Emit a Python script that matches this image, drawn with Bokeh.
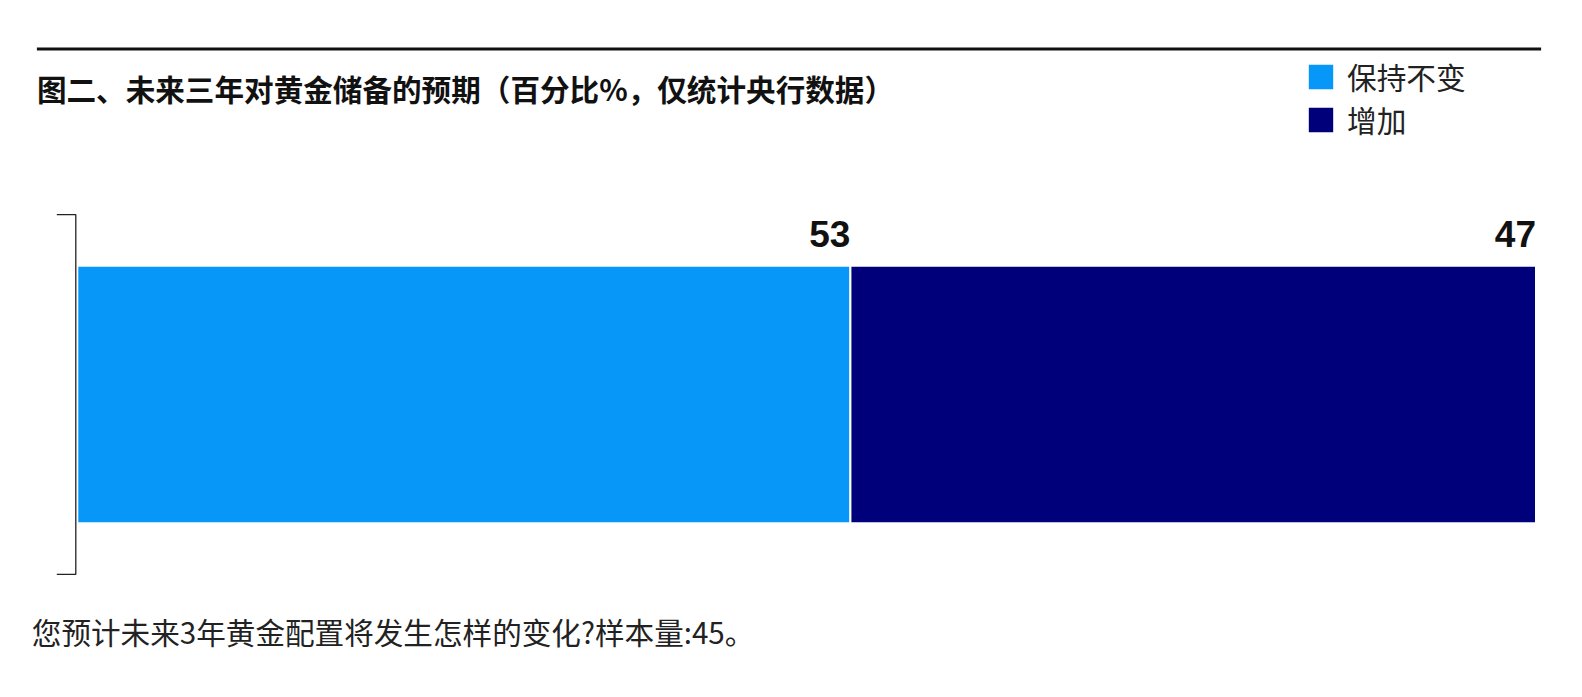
from bokeh.core.properties import value
from bokeh.embed import file_html
from bokeh.models import (BoxAnnotation, ColumnDataSource, Label, LabelSet, Legend,
                          LegendItem, Range1d)
from bokeh.plotting import figure
from bokeh.resources import INLINE
import numpy as np

TITLE = "图二、未来三年对黄金储备的预期（百分比%，仅统计央行数据）"
NOTE = "您预计未来3年黄金配置将发生怎样的变化?样本量:45。"

groups = ["央行"]
series = ["保持不变", "增加"]
keep = [53]
increase = [47]
colors = ["#0797F9", "#00007A"]

CJK = "Noto Sans CJK SC"

W, H = 1566, 681
# pixel layout of the plotting band inside the canvas
BAR_L, BAR_R = 76.8, 1535.5      # x of value 0 and of the total
BAND_TOP, BAND_BOT = 214.2, 573.8  # y (from top) of the bracket ends
TICK = 19                        # bracket tick length, px
BAR_H = 0.716                    # bar height as a share of the band

total = float(np.sum([keep[0], increase[0]]))
px_x = (BAR_R - BAR_L) / total
x0 = -BAR_L / px_x
px_y = BAND_BOT - BAND_TOP       # one band unit
y0 = -(H - BAND_BOT) / px_y
band = (0.0, 1.0)
mid = float(np.mean(band))

src = ColumnDataSource({"group": groups, "y": [mid] * len(groups),
                        series[0]: keep, series[1]: increase})

p = figure(
    width=W,
    height=H,
    x_range=Range1d(x0, x0 + W / px_x),
    y_range=Range1d(y0, y0 + H / px_y),
    x_axis_location=None,
    y_axis_location=None,
    toolbar_location=None,
    output_backend="svg",
    min_border=0,
)
p.outline_line_color = None
p.background_fill_color = "white"
p.border_fill_color = "white"
p.grid.visible = False

bars = p.hbar_stack(series, y="y", height=BAR_H, color=colors, source=src,
                    line_color="white", line_width=2)

# bracket on the left: vertical rule over the band with outward ticks at both ends,
# sitting just left of the bars
gap = 1.5 / px_x
t = TICK / px_x
p.line([-gap - t, -gap, -gap, -gap - t], [band[1], band[1], band[0], band[0]],
       line_color="#222222", line_width=1.3)

# value labels at the end of each segment
ends = np.cumsum([keep[0], increase[0]])
lab_src = ColumnDataSource({
    "x": ends.tolist(),
    "y": [mid, mid],
    "text": [str(keep[0]), str(increase[0])],
})
p.add_layout(LabelSet(x="x", y="y", text="text", source=lab_src,
                      x_offset=0, y_offset=BAR_H * px_y / 2 + 19, text_align="right",
                      text_baseline="bottom", text_font=value("Liberation Sans"),
                      text_font_style="bold", text_font_size="37px",
                      text_color="#111111"))

legend = Legend(
    items=[LegendItem(label=s, renderers=[r]) for s, r in zip(series, bars)],
    location=(1304, 540),
    orientation="vertical",
    glyph_width=33, glyph_height=33, label_height=23,
    label_standoff=10, spacing=-10, padding=0, margin=0,
    border_line_color=None, background_fill_alpha=0,
    label_text_font=CJK, label_text_font_size="29.7px", label_text_color="#222222",
)
p.add_layout(legend, "center")

p.add_layout(Label(x=36.4, y=H - 87.9, x_units="screen", y_units="screen", text=TITLE,
                   text_font=CJK, text_font_style="bold", text_font_size="29.6px",
                   text_baseline="middle", text_color="#111111"))
p.add_layout(Label(x=31.3, y=H - 630.5, x_units="screen", y_units="screen", text=NOTE,
                   text_font=CJK, text_font_size="29.6px",
                   text_baseline="middle", text_color="#222222"))
p.add_layout(BoxAnnotation(left=36.4, right=1540.6, bottom=H - 50, top=H - 47,
                           left_units="screen", right_units="screen",
                           bottom_units="screen", top_units="screen",
                           fill_color="#111111", fill_alpha=1, line_color=None))

open("out.html", "w").write(file_html(p, INLINE))
